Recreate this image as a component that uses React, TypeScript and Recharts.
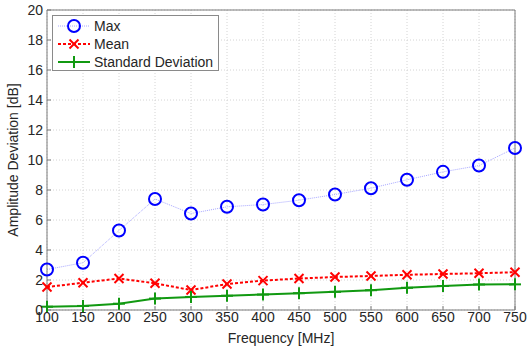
import React from 'react';
import { LineChart, Line, XAxis, YAxis, CartesianGrid } from 'recharts';

const frequencies = [100, 150, 200, 250, 300, 350, 400, 450, 500, 550, 600, 650, 700, 750];
const maxValues = [2.7, 3.15, 5.3, 7.4, 6.43, 6.88, 7.03, 7.32, 7.7, 8.12, 8.68, 9.21, 9.63, 10.8];
const meanValues = [1.53, 1.82, 2.1, 1.78, 1.33, 1.73, 1.96, 2.1, 2.2, 2.27, 2.35, 2.4, 2.45, 2.52];
const stdValues = [0.22, 0.27, 0.42, 0.76, 0.87, 0.95, 1.03, 1.12, 1.21, 1.32, 1.48, 1.6, 1.7, 1.71];
const xTicks = [100, 150, 200, 250, 300, 350, 400, 450, 500, 550, 600, 650, 700, 750];
const yTicks = [0, 2, 4, 6, 8, 10, 12, 14, 16, 18, 20];
const seriesNames = ['Max', 'Mean', 'Standard Deviation'];

const data = frequencies.map((f, i) => ({
  f,
  max: maxValues[i],
  mean: meanValues[i],
  std: stdValues[i],
}));

const FONT = '"Liberation Sans", Arial, Helvetica, sans-serif';
const TEXT = '#262626';
const AXIS = '#7a7a7a';
const BLUE = '#0000ff';
const BLUE_LINE = '#a8a8ff';
const RED = '#ff0000';
const GREEN = '#119911';

const CircleDot = (props: any) => {
  const { cx, cy } = props;
  if (cx == null || cy == null) return null;
  return <circle cx={cx} cy={cy} r={6} fill="none" stroke={BLUE} strokeWidth={2} />;
};

const XDot = (props: any) => {
  const { cx, cy } = props;
  if (cx == null || cy == null) return null;
  const s = 4.5;
  return (
    <g stroke={RED} strokeWidth={2}>
      <line x1={cx - s} y1={cy - s} x2={cx + s} y2={cy + s} />
      <line x1={cx - s} y1={cy + s} x2={cx + s} y2={cy - s} />
    </g>
  );
};

const PlusDot = (props: any) => {
  const { cx, cy } = props;
  if (cx == null || cy == null) return null;
  const s = 6;
  return (
    <g stroke={GREEN} strokeWidth={2}>
      <line x1={cx - s} y1={cy} x2={cx + s} y2={cy} />
      <line x1={cx} y1={cy - s} x2={cx} y2={cy + s} />
    </g>
  );
};

const LegendBox = () => {
  const kinds = ['max', 'mean', 'std'];
  return (
    <div
      style={{
        position: 'absolute',
        left: 52,
        top: 15,
        width: 167,
        height: 56,
        border: '1px solid #8a8a8a',
        background: '#fff',
        boxSizing: 'border-box',
        fontFamily: FONT,
        fontSize: 14,
        color: TEXT,
      }}
    >
      {seriesNames.map((name, i) => (
        <div key={name} style={{ position: 'absolute', left: 4, top: 1 + i * 18, height: 18, display: 'flex', alignItems: 'center' }}>
          <svg width={34} height={18} style={{ display: 'block' }}>
            {kinds[i] === 'max' && (
              <g>
                <line x1={1} y1={9} x2={33} y2={9} stroke={BLUE_LINE} strokeWidth={1} strokeDasharray="1 1" />
                <circle cx={17} cy={9} r={6} fill="none" stroke={BLUE} strokeWidth={2} />
              </g>
            )}
            {kinds[i] === 'mean' && (
              <g>
                <line x1={1} y1={9} x2={33} y2={9} stroke={RED} strokeWidth={2} strokeDasharray="3 2" />
                <XDot cx={17} cy={9} />
              </g>
            )}
            {kinds[i] === 'std' && (
              <g>
                <line x1={1} y1={9} x2={33} y2={9} stroke={GREEN} strokeWidth={2} />
                <PlusDot cx={17} cy={9} />
              </g>
            )}
          </svg>
          <span style={{ marginLeft: 3, whiteSpace: 'nowrap' }}>{name}</span>
        </div>
      ))}
    </div>
  );
};

const YLabel = (props: any) => {
  const vb = props.viewBox || {};
  const x = 13;
  const y = (vb.y ?? 10) + (vb.height ?? 300) / 2;
  return (
    <text x={x} y={y} transform={`rotate(-90 ${x} ${y})`} textAnchor="middle" dominantBaseline="central" fill={TEXT} fontFamily={FONT} fontSize={14}>
      Amplitude Deviation [dB]
    </text>
  );
};

const XLabel = (props: any) => {
  const vb = props.viewBox || {};
  const x = (vb.x ?? 47) + (vb.width ?? 468) / 2;
  return (
    <text x={x} y={338} textAnchor="middle" dominantBaseline="central" fill={TEXT} fontFamily={FONT} fontSize={14}>
      Frequency [MHz]
    </text>
  );
};

export default function App() {
  const tickStyle = { fill: TEXT, fontFamily: FONT, fontSize: 14 };
  return (
    <div style={{ position: 'absolute', left: 0, top: 0, width: 527, height: 352, background: '#fff' }}>
      <LineChart width={527} height={352} data={data} margin={{ top: 9, right: 11, bottom: 0, left: 0 }}>
        <CartesianGrid stroke="#d4d4d4" strokeDasharray="1 2" horizontalValues={yTicks} verticalValues={xTicks} />
        <XAxis
          dataKey="f"
          type="number"
          domain={[100, 750]}
          ticks={xTicks}
          interval={0}
          height={42}
          tickSize={-4}
          tickMargin={6}
          stroke={AXIS}
          tick={tickStyle}
          label={<XLabel />}
        />
        <XAxis
          xAxisId="top"
          orientation="top"
          dataKey="f"
          type="number"
          domain={[100, 750]}
          ticks={xTicks}
          interval={0}
          height={1}
          tickSize={-4}
          tick={false}
          stroke={AXIS}
        />
        <YAxis
          type="number"
          domain={[0, 20]}
          ticks={yTicks}
          interval={0}
          width={47}
          tickSize={-4}
          tickMargin={8}
          stroke={AXIS}
          tick={tickStyle}
          label={<YLabel />}
        />
        <YAxis
          yAxisId="right"
          orientation="right"
          type="number"
          domain={[0, 20]}
          ticks={yTicks}
          interval={0}
          width={1}
          tickSize={-4}
          tick={false}
          stroke={AXIS}
        />
        <Line
          type="linear"
          dataKey="max"
          name={seriesNames[0]}
          stroke={BLUE_LINE}
          strokeWidth={1}
          strokeDasharray="1 1"
          dot={<CircleDot />}
          activeDot={false}
          isAnimationActive={false}
        />
        <Line
          type="linear"
          dataKey="mean"
          name={seriesNames[1]}
          stroke={RED}
          strokeWidth={2}
          strokeDasharray="3 2"
          dot={<XDot />}
          activeDot={false}
          isAnimationActive={false}
        />
        <Line
          type="linear"
          dataKey="std"
          name={seriesNames[2]}
          stroke={GREEN}
          strokeWidth={2}
          dot={<PlusDot />}
          activeDot={false}
          isAnimationActive={false}
        />
      </LineChart>
      <LegendBox />
    </div>
  );
}
